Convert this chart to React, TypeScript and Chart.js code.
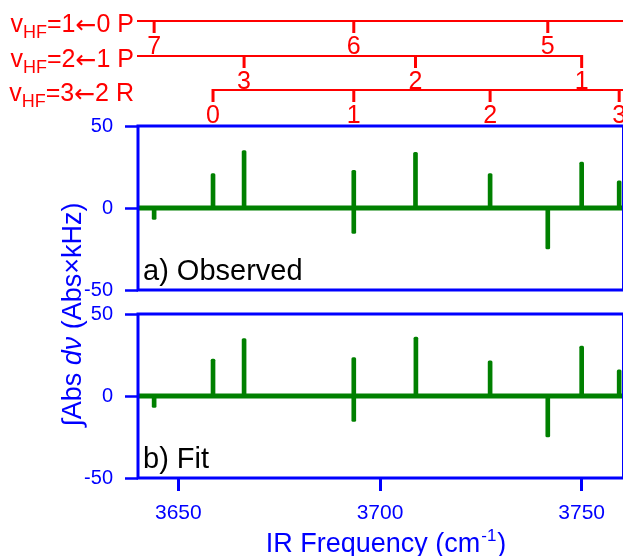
import React, { useEffect, useRef } from "react";
import { Chart, registerables } from "chart.js";
Chart.register(...registerables);

// ---------- data ----------
const X_MIN = 3640;
const X_MAX = 3760;
const X_TICKS = [3650, 3700, 3750];
const Y_MIN = -50;
const Y_MAX = 50;
const Y_TICKS = [-50, 0, 50];

const OBS_POS = [3644.0, 3658.6, 3666.3, 3693.5, 3693.5, 3708.8, 3727.3, 3741.6, 3750.0, 3759.3];
const OBS_VAL = [-7, 21, 35, 23, -15.5, 34, 21, -25, 28, 16.5];
const FIT_POS = [3644.0, 3658.6, 3666.3, 3693.5, 3693.5, 3708.9, 3727.3, 3741.6, 3750.0, 3759.3];
const FIT_VAL = [-7, 22.5, 35, 23.5, -15.5, 36, 21.5, -25, 30.5, 16];

// assignment combs
const P10_POS = [3644.0, 3693.5, 3741.6];
const P10_LABELS = ["7", "6", "5"];
const P21_POS = [3666.3, 3708.8, 3750.0];
const P21_LABELS = ["3", "2", "1"];
const R32_POS = [3658.6, 3693.5, 3727.3, 3759.3];
const R32_LABELS = ["0", "1", "2", "3"];
const COMB_NAMES = [
  ["1", "0", "P"],
  ["2", "1", "P"],
  ["3", "2", "R"],
];

const PANEL_A_LABEL = "a) Observed";
const PANEL_B_LABEL = "b) Fit";
const X_TITLE = ["IR Frequency (cm", "-1", ")"];
const Y_TITLE = ["\u222BAbs ", "d\u03BD", " (Abs\u00D7kHz)"];

// ---------- styles ----------
const FONT = "'Liberation Sans', Arial, Helvetica, sans-serif";
const ARROW_FONT = "'DejaVu Sans', sans-serif";
const BLUE = "#0000ff";
const RED = "#ff0000";
const GREEN = "#008000";
const W = 623;
const H = 556;

type Run = { text: string; font: string; dy?: number; gap?: number };

function drawRuns(ctx: any, runs: Run[], x: number, y: number, align: "left" | "right" | "center") {
  const widths = runs.map((r) => {
    ctx.font = r.font;
    return ctx.measureText(r.text).width + (r.gap || 0);
  });
  const total = widths.reduce((s, w) => s + w, 0);
  let cx = align === "left" ? x : align === "right" ? x - total : x - total / 2;
  ctx.textAlign = "left";
  ctx.textBaseline = "alphabetic";
  runs.forEach((r, i) => {
    ctx.font = r.font;
    ctx.fillText(r.text, cx, y + (r.dy || 0));
    cx += widths[i];
  });
}

function drawFrame(chart: any) {
  const { ctx, chartArea: a } = chart;
  ctx.save();
  ctx.strokeStyle = BLUE;
  ctx.lineWidth = 3;
  ctx.beginPath();
  ctx.moveTo(a.left - 1.5, a.top);
  ctx.lineTo(a.right + 1, a.top);
  ctx.moveTo(a.left - 1.5, a.bottom);
  ctx.lineTo(a.right + 1, a.bottom);
  ctx.moveTo(a.left, a.top);
  ctx.lineTo(a.left, a.bottom);
  ctx.stroke();
  ctx.lineWidth = 1;
  ctx.beginPath();
  ctx.moveTo(a.right + 0.5, a.top);
  ctx.lineTo(a.right + 0.5, a.bottom);
  ctx.stroke();
  ctx.restore();
}

function drawPanelLabel(chart: any, text: string) {
  const { ctx, chartArea: a } = chart;
  ctx.save();
  ctx.fillStyle = "#000";
  ctx.font = `29px ${FONT}`;
  ctx.textAlign = "left";
  ctx.textBaseline = "alphabetic";
  ctx.fillText(text, a.left + 5, a.bottom - 10);
  ctx.restore();
}

function drawCombs(chart: any) {
  const { ctx, chartArea: a } = chart;
  const xs = chart.scales.x;
  const rows = [
    { y: 21, pos: P10_POS, labels: P10_LABELS, from: "axis", to: "edge", name: COMB_NAMES[0] },
    { y: 56, pos: P21_POS, labels: P21_LABELS, from: "axis", to: "last", name: COMB_NAMES[1] },
    { y: 90, pos: R32_POS, labels: R32_LABELS, from: "first", to: "edge", name: COMB_NAMES[2] },
  ];
  ctx.save();
  ctx.strokeStyle = RED;
  ctx.fillStyle = RED;
  rows.forEach((r) => {
    const px = r.pos.map((v) => xs.getPixelForValue(v));
    const x0 = r.from === "axis" ? a.left - 1 : px[0];
    const x1 = r.to === "edge" ? W : px[px.length - 1];
    ctx.lineWidth = 2;
    ctx.beginPath();
    ctx.moveTo(x0, r.y);
    ctx.lineTo(x1, r.y);
    ctx.stroke();
    ctx.lineWidth = 3;
    px.forEach((p, i) => {
      ctx.beginPath();
      ctx.moveTo(p, r.y - 1);
      ctx.lineTo(p, r.y + 12);
      ctx.stroke();
      ctx.font = `25px ${FONT}`;
      ctx.textAlign = "center";
      ctx.textBaseline = "alphabetic";
      ctx.fillText(r.labels[i], p, r.y + 33);
    });
    const big = `25px ${FONT}`;
    drawRuns(
      ctx,
      [
        { text: "v", font: big },
        { text: "HF", font: `18px ${FONT}`, dy: 6 },
        { text: `=${r.name[0]}`, font: big },
        { text: "\u2190", font: `25px ${ARROW_FONT}`, dy: 1 },
        { text: `${r.name[1]} ${r.name[2]}`, font: big },
      ],
      134,
      r.y + 10.5,
      "right"
    );
  });
  ctx.restore();
}

function drawTitles(chart: any) {
  const { ctx } = chart;
  ctx.save();
  ctx.fillStyle = BLUE;
  const big = `27px ${FONT}`;
  drawRuns(
    ctx,
    [
      { text: X_TITLE[0], font: big, gap: 1 },
      { text: X_TITLE[1], font: `17px ${FONT}`, dy: -11, gap: 1 },
      { text: X_TITLE[2], font: big },
    ],
    386,
    552,
    "center"
  );
  ctx.translate(81, 314.5);
  ctx.rotate(-Math.PI / 2);
  drawRuns(
    ctx,
    [
      { text: Y_TITLE[0], font: big },
      { text: Y_TITLE[1], font: `italic 27px ${FONT}` },
      { text: Y_TITLE[2], font: big },
    ],
    0,
    0,
    "center"
  );
  ctx.restore();
}

function makeConfig(pos: number[], vals: number[], panel: "a" | "b"): any {
  const isB = panel === "b";
  return {
    type: "bar",
    data: {
      datasets: [
        {
          type: "bar",
          data: pos.map((x, i) => ({ x, y: vals[i] })),
          backgroundColor: GREEN,
          borderWidth: 0,
          barThickness: 4,
          borderRadius: 1.5,
          grouped: false,
          order: 2,
        },
        {
          type: "line",
          data: [
            { x: X_MIN, y: 0 },
            { x: X_MAX, y: 0 },
          ],
          borderColor: GREEN,
          borderWidth: 5,
          pointRadius: 0,
          fill: false,
          order: 1,
        },
      ],
    },
    options: {
      responsive: false,
      animation: false,
      devicePixelRatio: 1,
      events: [],
      layout: {
        padding: { left: 0, right: 1, top: isB ? 314 : 126, bottom: isB ? 0 : H - 290 },
      },
      plugins: { legend: { display: false }, tooltip: { enabled: false }, title: { display: false } },
      scales: {
        x: {
          type: "linear",
          display: isB,
          min: X_MIN,
          max: X_MAX,
          offset: false,
          border: { display: false },
          grid: {
            offset: false,
            drawOnChartArea: false,
            drawTicks: true,
            tickLength: 13,
            tickWidth: 3,
            tickColor: BLUE,
            color: BLUE,
          },
          ticks: {
            color: BLUE,
            font: { family: FONT, size: 21 },
            padding: 10,
            maxRotation: 0,
            autoSkip: false,
            includeBounds: false,
            callback: (v: number) => String(v),
          },
          afterBuildTicks: (s: any) => {
            s.ticks = X_TICKS.map((v) => ({ value: v }));
          },
          afterFit: (s: any) => {
            if (isB) s.height = H - 478;
          },
        },
        y: {
          type: "linear",
          min: Y_MIN,
          max: Y_MAX,
          border: { display: false },
          grid: {
            drawOnChartArea: false,
            drawTicks: true,
            tickLength: 13,
            tickWidth: 2.5,
            tickColor: BLUE,
            color: BLUE,
          },
          ticks: {
            color: BLUE,
            font: { family: FONT, size: 20 },
            padding: 12,
            autoSkip: false,
            includeBounds: false,
            callback: (v: number) => String(v),
          },
          afterBuildTicks: (s: any) => {
            s.ticks = Y_TICKS.map((v) => ({ value: v }));
          },
          afterFit: (s: any) => {
            s.width = 138;
          },
        },
      },
    },
    plugins: [
      {
        id: "decor" + panel,
        afterDatasetsDraw(chart: any) {
          drawFrame(chart);
          drawPanelLabel(chart, isB ? PANEL_B_LABEL : PANEL_A_LABEL);
          if (isB) drawTitles(chart);
          else drawCombs(chart);
        },
      },
    ],
  };
}

export default function App() {
  const refA = useRef<HTMLCanvasElement>(null);
  const refB = useRef<HTMLCanvasElement>(null);
  useEffect(() => {
    document.body.style.margin = "0";
    const b = new Chart(refB.current as HTMLCanvasElement, makeConfig(FIT_POS, FIT_VAL, "b"));
    const a = new Chart(refA.current as HTMLCanvasElement, makeConfig(OBS_POS, OBS_VAL, "a"));
    return () => {
      a.destroy();
      b.destroy();
    };
  }, []);
  const cs: React.CSSProperties = { position: "absolute", left: 0, top: 0, width: W, height: H };
  return (
    <div style={{ position: "relative", width: W, height: H, background: "#fff" }}>
      <canvas ref={refB} width={W} height={H} style={cs} />
      <canvas ref={refA} width={W} height={H} style={cs} />
    </div>
  );
}
